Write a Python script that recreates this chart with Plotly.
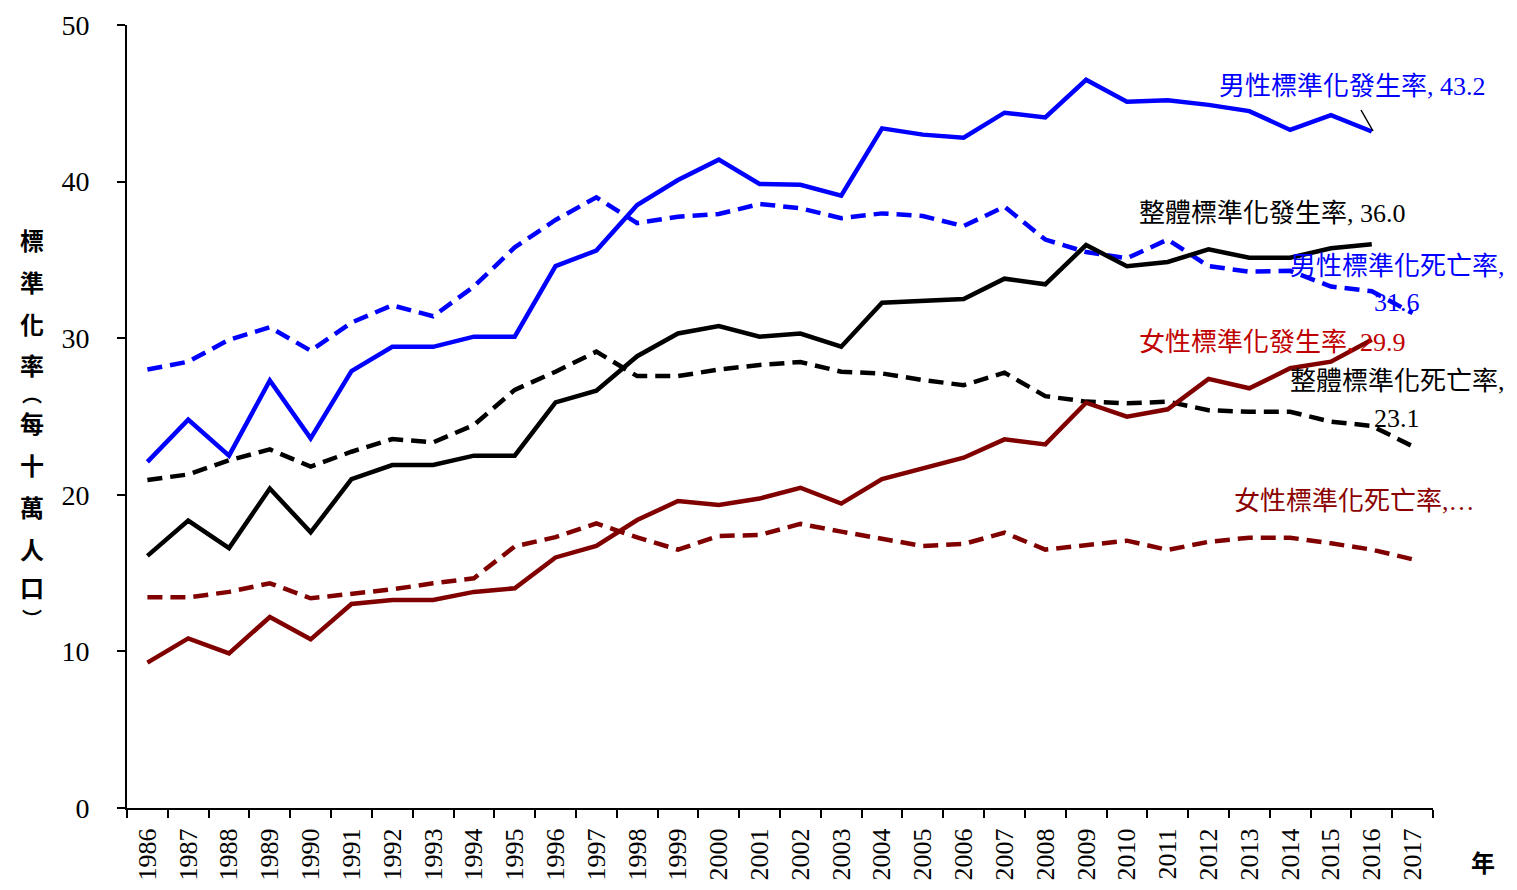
import plotly.graph_objects as go

years = [str(y) for y in range(1986, 2018)]

male_inc = [22.1, 24.8, 22.5, 27.3, 23.6, 27.9, 29.45, 29.45, 30.1, 30.1, 34.6, 35.6,
            38.5, 40.1, 41.4, 39.85, 39.8, 39.1, 43.4, 43.0, 42.8, 44.4, 44.1, 46.5,
            45.1, 45.2, 44.9, 44.5, 43.3, 44.25, 43.2]
male_mort = [28.0, 28.5, 29.9, 30.7, 29.2, 31.0, 32.1, 31.4, 33.3, 35.8, 37.55, 39.0,
             37.35, 37.76, 37.93, 38.57, 38.3, 37.66, 37.97, 37.8, 37.16, 38.4, 36.3, 35.5,
             35.1, 36.3, 34.6, 34.25, 34.3, 33.3, 33.0, 31.6]
total_inc = [16.1, 18.35, 16.6, 20.4, 17.6, 21.0, 21.9, 21.9, 22.5, 22.5, 25.9, 26.65,
             28.85, 30.3, 30.78, 30.1, 30.3, 29.46, 32.27, 32.4, 32.5, 33.8, 33.44, 35.95,
             34.6, 34.87, 35.67, 35.14, 35.14, 35.74, 36.0]
total_mort = [20.95, 21.3, 22.2, 22.9, 21.8, 22.75, 23.56, 23.35, 24.46, 26.7, 27.86, 29.14,
              27.58, 27.58, 28.0, 28.29, 28.48, 27.86, 27.75, 27.33, 27.0, 27.8, 26.3, 25.95,
              25.84, 25.95, 25.4, 25.3, 25.3, 24.67, 24.4, 23.1]
female_inc = [9.28, 10.83, 9.87, 12.2, 10.77, 13.03, 13.28, 13.28, 13.8, 14.03, 16.0, 16.73,
              18.39, 19.6, 19.35, 19.76, 20.45, 19.44, 21.0, 21.68, 22.37, 23.54, 23.22, 25.88,
              24.99, 25.46, 27.4, 26.8, 28.08, 28.5, 29.9]
female_mort = [13.45, 13.45, 13.8, 14.35, 13.39, 13.7, 13.96, 14.35, 14.67, 16.7, 17.3, 18.17,
               17.28, 16.5, 17.37, 17.43, 18.14, 17.65, 17.22, 16.73, 16.86, 17.58, 16.5, 16.8,
               17.07, 16.48, 17.0, 17.26, 17.26, 16.9, 16.5, 15.88]

y_ticks = [0, 10, 20, 30, 40, 50]

BLUE = "#0000FF"
BLACK = "#000000"
DRED = "#800000"
DASH = "15px,8px"
W = 4.5

fig = go.Figure()

def add(y, color, dash, name):
    fig.add_trace(go.Scatter(
        x=years[:len(y)], y=y, mode="lines", name=name,
        line=dict(color=color, width=W, dash=dash),
        hoverinfo="skip",
    ))

add(male_mort, BLUE, DASH, "男性標準化死亡率")
add(total_mort, BLACK, DASH, "整體標準化死亡率")
add(female_mort, DRED, DASH, "女性標準化死亡率")
add(male_inc, BLUE, "solid", "男性標準化發生率")
add(total_inc, BLACK, "solid", "整體標準化發生率")
add(female_inc, DRED, "solid", "女性標準化發生率")

# plot area in reference screen pixels
L, R, T, B = 127, 1433, 25, 808
PW, PH = R - L, B - T
OFF = 8  # page body margin
FIG_W, FIG_H = 1517 - 2 * OFF, 890 - 2 * OFF

def px(x):
    return (x - L) / PW

def py(y):
    return (B - y) / PH

LABEL_FONT = "Liberation Serif, Noto Sans CJK TC, serif"

def label(text, x, y, color, anchor="left", size=26):
    fig.add_annotation(
        xref="paper", yref="paper", x=px(x), y=py(y),
        xanchor=anchor, yanchor="middle", text=text, showarrow=False,
        font=dict(family=LABEL_FONT, size=size, color=color),
    )

label("男性標準化發生率,&nbsp;43.2", 1217, 86, BLUE)
label("整體標準化發生率,&nbsp;36.0", 1137, 213, BLACK)
label("男性標準化死亡率,", 1397, 266, BLUE, anchor="center")
label("31.6", 1397, 303, BLUE, anchor="center")
label("女性標準化發生率,&nbsp;29.9", 1137, 342, "#C00000")
label("整體標準化死亡率,", 1397, 381, BLACK, anchor="center")
label("23.1", 1397, 418, BLACK, anchor="center")
label("女性標準化死亡率,…", 1232, 501, "#8B0000")

# leader line for male incidence label
fig.add_shape(type="line", xref="paper", yref="paper",
              x0=px(1361), y0=py(110), x1=px(1373), y1=py(131),
              line=dict(color="black", width=1.5))

# y-axis title, vertical characters placed one by one
ytitle_chars = ["標", "準", "化", "率", "︵", "每", "十", "萬", "人", "口", "︶"]
ytitle_pos = [240, 281, 323, 364, 393, 422, 464, 506, 548, 586, 618]
ytitle_size = [24, 24, 24, 24, 20, 24, 24, 24, 24, 24, 20]
for ch, yy, sz in zip(ytitle_chars, ytitle_pos, ytitle_size):
    fig.add_annotation(
        xref="paper", yref="paper", x=px(32), y=py(yy), xanchor="center", yanchor="middle",
        text="<b>" + ch + "</b>", showarrow=False,
        font=dict(family="Noto Sans CJK TC", size=sz, color="black"),
    )
fig.add_annotation(
    xref="paper", yref="paper", x=px(1483), y=py(862), xanchor="center", yanchor="middle",
    text="<b>年</b>", showarrow=False,
    font=dict(family="Noto Sans CJK TC", size=24, color="black"),
)

fig.update_layout(
    width=FIG_W, height=FIG_H,
    margin=dict(l=L - OFF, r=FIG_W - (R - OFF), t=T - OFF, b=FIG_H - (B - OFF)),
    plot_bgcolor="white", paper_bgcolor="white",
    showlegend=False,
    font=dict(family="Liberation Serif", color="black"),
)
fig.update_xaxes(
    type="category", categoryarray=years, range=[-0.5, 31.5],
    tickson="boundaries", ticks="outside", ticklen=8, tickwidth=1.5, tickcolor="black",
    showline=True, linecolor="black", linewidth=2,
    showgrid=False, zeroline=False, automargin=False,
    tickangle=-90, ticklabelstandoff=8,
    tickfont=dict(family="Liberation Serif", size=26, color="black"),
)
fig.update_yaxes(
    range=[0, 50], tickvals=y_ticks, ticktext=[str(v) for v in y_ticks],
    ticks="outside", ticklen=8, tickwidth=1.5, tickcolor="black",
    showline=True, linecolor="black", linewidth=2,
    showgrid=False, zeroline=False, automargin=False, ticklabelstandoff=22,
    tickfont=dict(family="Liberation Serif", size=28, color="black"),
)

fig.write_html("out.html")
